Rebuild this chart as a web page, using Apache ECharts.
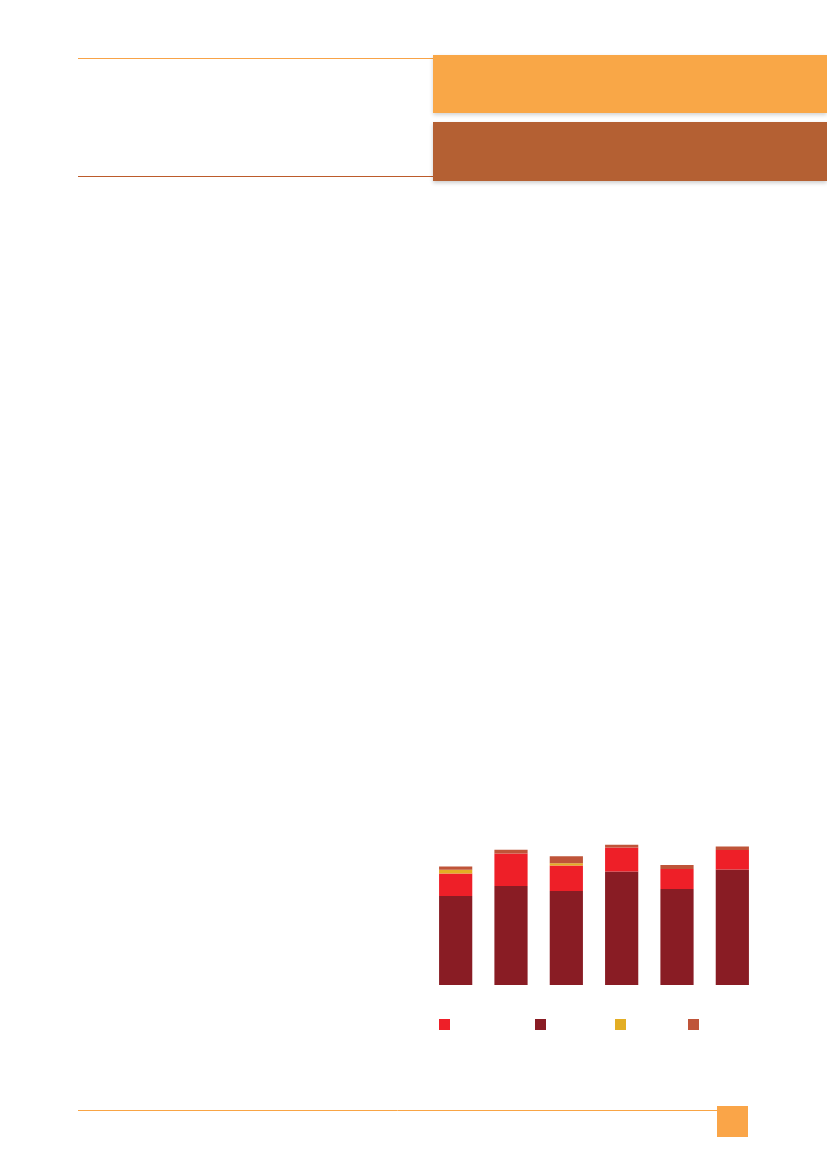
<!DOCTYPE html>
<html>
<head>
<meta charset="utf-8">
<script src="https://cdn.jsdelivr.net/npm/echarts@6/dist/echarts.min.js"></script>
<style>
  html, body { margin: 0; padding: 0; background: #fff; }
  #page { width: 827px; height: 1169px; }
</style>
</head>
<body>
<div id="page"></div>
<script>
// six columns, four stacked parts (px-ish units)
const categories = ['1', '2', '3', '4', '5', '6'];
const seriesNames = ['A', 'B', 'C', 'D']; // legend order: red, dark, yellow, brown
const darkPart = [89, 99, 94, 113.5, 96, 115.5];
const redPart = [22.5, 32.5, 25.5, 24, 20, 19.5];
const yellowPart = [3.7, 0, 2.3, 0, 0, 0];
const brownPart = [3.3, 3.7, 7, 2.7, 4, 3.4];

const colors = {
  red: '#EE1F28',
  dark: '#891C24',
  yellow: '#E3AE24',
  brown: '#BF5439'
};

const chart = echarts.init(document.getElementById('page'), null, { renderer: 'canvas' });

const legendX = [439, 535, 615, 688];
const legends = seriesNames.map((n, i) => ({
  data: [n],
  left: legendX[i],
  top: 1019,
  padding: 0,
  itemGap: 0,
  itemWidth: 11,
  itemHeight: 11,
  icon: 'rect',
  selectedMode: false,
  formatter: () => '',
  textStyle: { fontSize: 1 }
}));

const bar = (name, data, color) => ({
  name: name,
  type: 'bar',
  stack: 'all',
  barWidth: '60%',
  data: data,
  itemStyle: { color: color },
  emphasis: { disabled: true }
});

let option = {
  animation: false,
  backgroundColor: '#ffffff',
  grid: { left: 428, right: 827 - 760, top: 835, bottom: 1169 - 985 },
  xAxis: {
    type: 'category',
    data: categories,
    axisLine: { show: false },
    axisTick: { show: false },
    axisLabel: { show: false }
  },
  yAxis: {
    type: 'value',
    min: 0,
    max: 150,
    show: false,
    splitLine: { show: false }
  },
  legend: legends,
  series: [
    bar('B', darkPart, colors.dark),
    bar('A', redPart, colors.red),
    bar('C', yellowPart, colors.yellow),
    bar('D', brownPart, colors.brown)
  ],
  graphic: [
    // header lines
    { type: 'line', shape: { x1: 78, y1: 58.5, x2: 433, y2: 58.5 }, style: { stroke: '#F8A347', lineWidth: 1 } },
    { type: 'line', shape: { x1: 78, y1: 176.5, x2: 433, y2: 176.5 }, style: { stroke: '#BC5B2B', lineWidth: 1.2 } },
    // header blocks with soft shadow
    {
      type: 'rect', shape: { x: 433, y: 55, width: 394, height: 58 },
      style: { fill: '#F9A747', shadowBlur: 4, shadowColor: 'rgba(0,0,0,0.18)', shadowOffsetY: 2 }
    },
    {
      type: 'rect', shape: { x: 433, y: 122, width: 394, height: 59 },
      style: { fill: '#B46033', shadowBlur: 4, shadowColor: 'rgba(0,0,0,0.2)', shadowOffsetY: 2 }
    },
    // footer
    { type: 'line', shape: { x1: 78, y1: 1110.5, x2: 717, y2: 1110.5 }, style: { stroke: '#F9A545', lineWidth: 1 } },
    { type: 'rect', shape: { x: 717, y: 1106, width: 31, height: 31 }, style: { fill: '#FAA548' } }
  ]
};

chart.setOption(option);
</script>
</body>
</html>
